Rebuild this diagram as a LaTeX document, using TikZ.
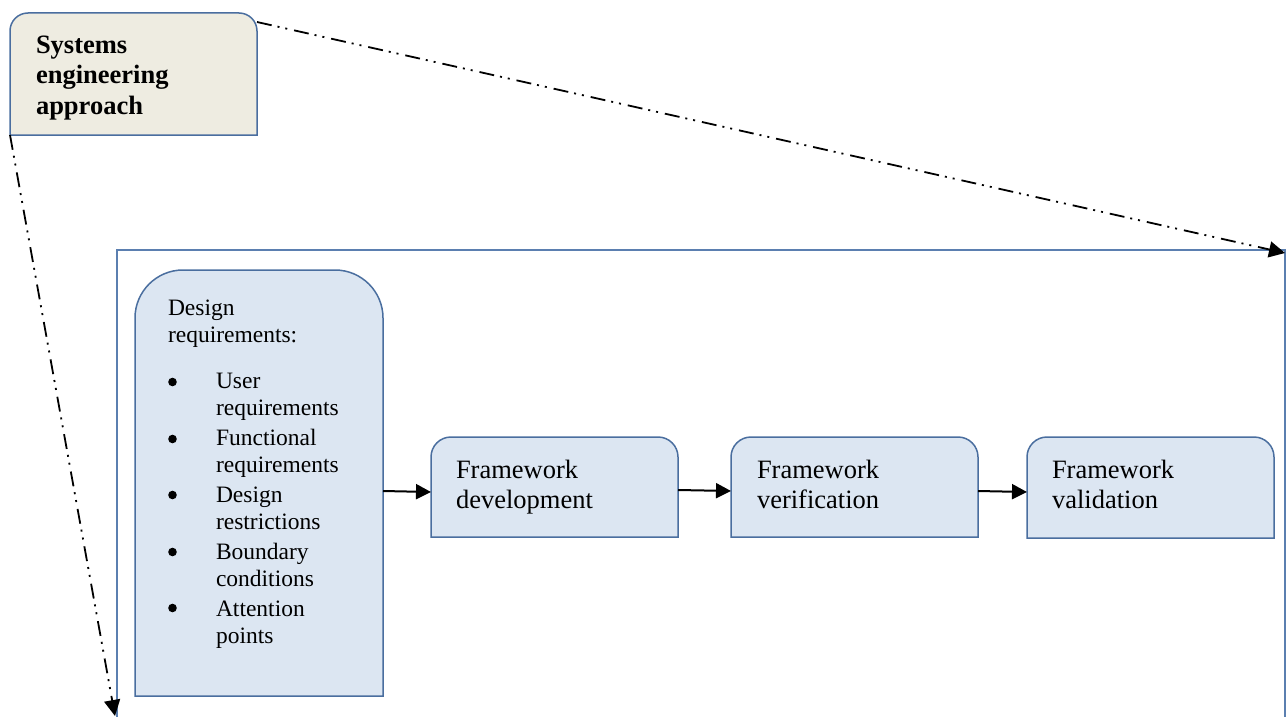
\documentclass[tikz,border=0pt]{standalone}
\usepackage{fontspec}
\setmainfont{Liberation Serif}
\usetikzlibrary{arrows.meta}

\definecolor{edgeblue}{HTML}{4A6E9F}
\definecolor{frameblue}{HTML}{5B7FB0}
\definecolor{beige}{HTML}{EEECE1}
\definecolor{paleblue}{HTML}{DCE6F2}

% box outline with only the two upper corners rounded
\newcommand\toproundbox[3]{%
  \path[#3] (#1.south west) -- ([yshift=-#2]#1.north west)
    arc[start angle=180, end angle=90, radius=#2]
    -- ([xshift=-#2]#1.north east)
    arc[start angle=90, end angle=0, radius=#2]
    -- (#1.south east) -- cycle;}

\tikzset{
  boxbase/.style={anchor=north west, inner sep=0pt, outer sep=0pt, draw=none},
  boxline/.style={draw=edgeblue, line width=1.5pt},
  txt/.style={anchor=base west, inner sep=0pt, outer sep=0pt, align=left},
  flow/.style={line width=2pt, -{Triangle[length=15pt,width=15pt]}},
  scope link/.style={line width=1.8pt, dash pattern=on 15pt off 6pt on 2pt off 6pt on 2pt off 7pt,
    -{Triangle[length=16pt,width=16pt]}},
  framestyle/.style={draw=frameblue, line width=1.6pt},
  bulletdot/.style={fill=black}
}

\begin{document}
\begin{tikzpicture}[x=1pt, y=-1pt]
\useasboundingbox (0,0) rectangle (1287,717);

% outer frame, running past the lower edge
\node[boxbase, minimum width=1168pt, minimum height=490pt] (frame) at (117,250) {};
\draw[framestyle] (frame.south west) -- (frame.north west) -- (frame.north east) -- (frame.south east);

% boxes
\node[boxbase, minimum width=247pt, minimum height=122pt] (sys) at (10,13) {};
\node[boxbase, minimum width=248pt, minimum height=426pt] (req) at (135,270) {};
\node[boxbase, minimum width=247pt, minimum height=100pt] (dev) at (431,437) {};
\node[boxbase, minimum width=247pt, minimum height=100pt] (ver) at (731,437) {};
\node[boxbase, minimum width=247pt, minimum height=101pt] (val) at (1027,437) {};

\toproundbox{sys}{18pt}{boxline, fill=beige}
\toproundbox{req}{48pt}{boxline, fill=paleblue}
\toproundbox{dev}{20pt}{boxline, fill=paleblue}
\toproundbox{ver}{20pt}{boxline, fill=paleblue}
\toproundbox{val}{20pt}{boxline, fill=paleblue}

% texts
\node[txt] (sys-text) at (36,53) {\vtop{\bfseries\fontsize{26.5}{31}\selectfont
  \hbox{Systems}\hbox{engineering}\hbox{approach}}};

\node[txt] (req-text) at (168,315) {\vtop{\fontsize{23.5}{27}\selectfont
  \def\itm#1#2{\hbox{\hskip48pt #1}\hbox{\hskip48pt #2}}%
  \hbox{Design}\hbox{requirements:}
  \vskip19pt
  \itm{User}{requirements}\vskip3pt
  \itm{Functional}{requirements}\vskip3pt
  \itm{Design}{restrictions}\vskip3pt
  \itm{Boundary}{conditions}\vskip3pt
  \itm{Attention}{points}}};

% list bullets
\foreach \by in {382,439,495,552,608}
  \fill[bulletdot] (172.5,\by) circle[radius=4.3pt];

\node[txt] (dev-text) at (456,478) {\vtop{\fontsize{26.5}{30}\selectfont
  \hbox{Framework}\hbox{development}}};
\node[txt] (ver-text) at (757,478) {\vtop{\fontsize{26.5}{30}\selectfont
  \hbox{Framework}\hbox{verification}}};
\node[txt] (val-text) at (1052,478) {\vtop{\fontsize{26.5}{30}\selectfont
  \hbox{Framework}\hbox{validation}}};

% process arrows
\draw[flow] ([yshift=-8pt]req.east) -- ([yshift=-5pt]dev.west);
\draw[flow] ([yshift=-3pt]dev.east) -- ([yshift=-4pt]ver.west);
\draw[flow] ([yshift=-4pt]ver.east) -- ([yshift=-4.5pt]val.west);

% dash-dot links from the approach box to the frame
\coordinate (frame-foot) at (115,716);
\draw[scope link] ([yshift=-9pt]sys.north east) -- ([yshift=-3pt]frame.north east);
\draw[scope link] (sys.south west) -- (frame-foot);
\end{tikzpicture}
\end{document}
